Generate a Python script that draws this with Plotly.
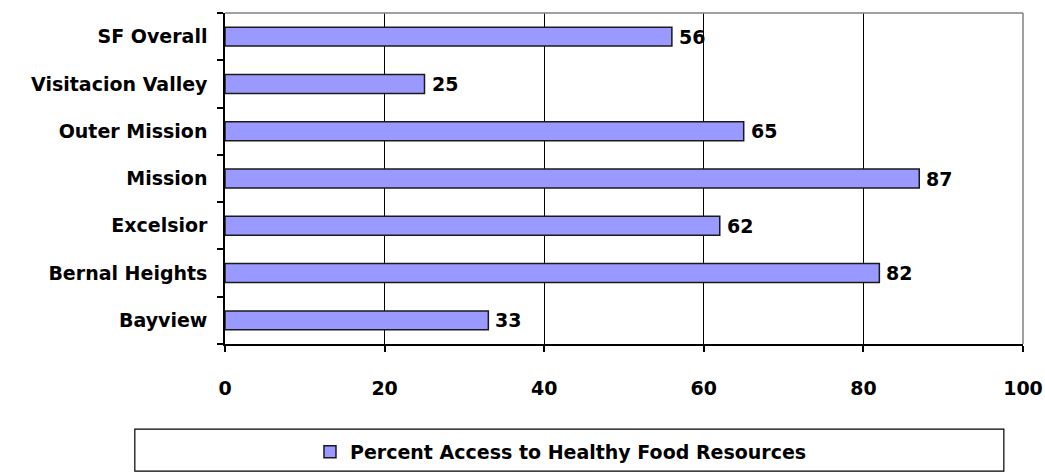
import plotly.graph_objects as go

# Neighbourhoods listed bottom-to-top, with their percentage values
neighborhoods = ["Bayview", "Bernal Heights", "Excelsior", "Mission",
                 "Outer Mission", "Visitacion Valley", "SF Overall"]
access_pct = [33, 82, 62, 87, 65, 25, 56]
series_name = "Percent Access to Healthy Food Resources"
x_ticks = [0, 20, 40, 60, 80, 100]

FONT = "DejaVu Sans, Arial, sans-serif"
FSIZE = 19

fig = go.Figure()
fig.add_trace(go.Bar(
    x=access_pct,
    y=neighborhoods,
    orientation="h",
    name=series_name,
    marker=dict(color="#9999FF", line=dict(color="#1a1a1a", width=1.5)),
    showlegend=True,
))

# Value labels just past the end of each bar
for name, val in zip(neighborhoods, access_pct):
    fig.add_annotation(
        x=val, y=name, text=str(val), showarrow=False,
        xanchor="left", yanchor="middle", xshift=5,
        font=dict(family=FONT, size=FSIZE, color="black", weight="bold"),
    )

# Grey frame on top and right of the plot area
fig.add_shape(type="line", xref="paper", yref="paper", x0=0, x1=1, y0=1, y1=1,
              line=dict(color="#808080", width=1.5))
fig.add_shape(type="line", xref="paper", yref="paper", x0=1, x1=1, y0=0, y1=1,
              line=dict(color="#808080", width=1.5))

# Legend frame
fig.add_shape(type="rect", xref="paper", yref="paper",
              x0=-0.113, x1=0.976, y0=-0.384, y1=-0.257,
              line=dict(color="black", width=1.2), fillcolor="white", layer="below")

fig.update_layout(
    width=1045, height=473,
    margin=dict(l=225, r=22, t=13, b=129, autoexpand=False),
    paper_bgcolor="white", plot_bgcolor="white",
    bargap=0.6,
    font=dict(family=FONT, size=FSIZE, color="black", weight="bold"),
    legend=dict(
        orientation="h", x=0.1065, y=-0.326, xanchor="left", yanchor="middle",
        bgcolor="rgba(0,0,0,0)", borderwidth=0, itemwidth=30,
        font=dict(family=FONT, size=FSIZE, color="black", weight="bold"),
    ),
    xaxis=dict(
        range=[0, 100], tickvals=x_ticks, ticktext=[str(v) for v in x_ticks],
        showgrid=True, gridcolor="black", gridwidth=1,
        showline=True, linecolor="black", linewidth=1.5,
        ticks="outside", ticklen=6, tickcolor="black", tickwidth=1.5,
        ticklabelstandoff=20, zeroline=False, automargin=False,
    ),
    yaxis=dict(
        categoryorder="array", categoryarray=neighborhoods,
        showgrid=False, showline=True, linecolor="black", linewidth=1.5,
        ticks="outside", ticklen=6, tickcolor="black", tickwidth=1.5,
        tickson="boundaries", ticklabelstandoff=12, automargin=False,
    ),
)

fig.write_html("out.html")
